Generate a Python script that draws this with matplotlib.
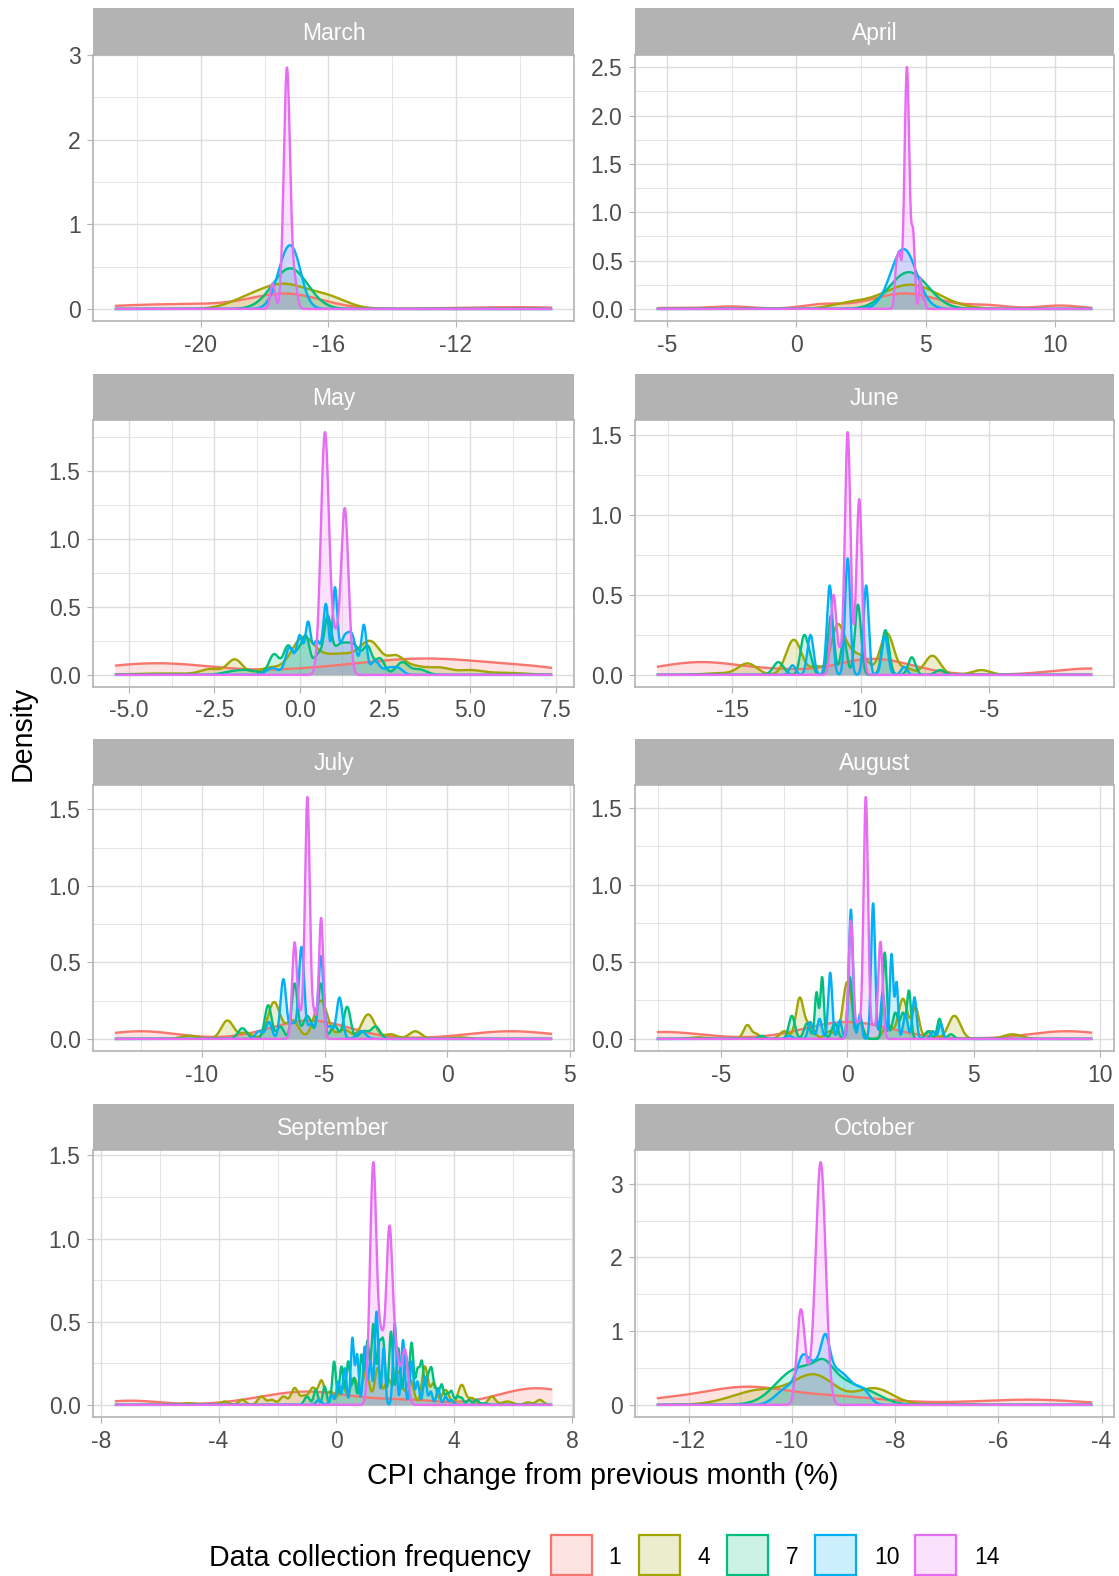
import numpy as np
import matplotlib
matplotlib.use("Agg")
import matplotlib.pyplot as plt
from matplotlib.patches import Rectangle

plt.rcParams['font.family'] = ['Liberation Sans', 'DejaVu Sans']
plt.rcParams['axes.unicode_minus'] = False

# ---------------------------------------------------------------- data
months = ["March", "April", "May", "June", "July", "August", "September", "October"]
frequencies = [1, 4, 7, 10, 14]
freq_colors = ["#F8766D", "#A3A500", "#00BF7D", "#00B0F6", "#E76BF3"]

# observed range of CPI change per month
x_extent = {
    "March": (-22.7, -8.98), "April": (-5.4, 11.45), "May": (-5.42, 7.4),
    "June": (-17.94, -0.97), "July": (-13.55, 4.28), "August": (-7.55, 9.7),
    "September": (-7.52, 7.32), "October": (-12.62, -4.18),
}

x_ticks = {
    "March": [-20, -16, -12], "April": [-5, 0, 5, 10],
    "May": [-5.0, -2.5, 0.0, 2.5, 5.0, 7.5], "June": [-15, -10, -5],
    "July": [-10, -5, 0, 5], "August": [-5, 0, 5, 10],
    "September": [-8, -4, 0, 4, 8], "October": [-12, -10, -8, -6, -4],
}
x_labels = {
    "March": ["-20", "-16", "-12"], "April": ["-5", "0", "5", "10"],
    "May": ["-5.0", "-2.5", "0.0", "2.5", "5.0", "7.5"], "June": ["-15", "-10", "-5"],
    "July": ["-10", "-5", "0", "5"], "August": ["-5", "0", "5", "10"],
    "September": ["-8", "-4", "0", "4", "8"], "October": ["-12", "-10", "-8", "-6", "-4"],
}
y_ticks = {
    "March": [0, 1, 2, 3], "April": [0.0, 0.5, 1.0, 1.5, 2.0, 2.5],
    "May": [0.0, 0.5, 1.0, 1.5], "June": [0.0, 0.5, 1.0, 1.5],
    "July": [0.0, 0.5, 1.0, 1.5], "August": [0.0, 0.5, 1.0, 1.5],
    "September": [0.0, 0.5, 1.0, 1.5], "October": [0, 1, 2, 3],
}
y_labels = {
    "March": ["0", "1", "2", "3"], "April": ["0.0", "0.5", "1.0", "1.5", "2.0", "2.5"],
    "May": ["0.0", "0.5", "1.0", "1.5"], "June": ["0.0", "0.5", "1.0", "1.5"],
    "July": ["0.0", "0.5", "1.0", "1.5"], "August": ["0.0", "0.5", "1.0", "1.5"],
    "September": ["0.0", "0.5", "1.0", "1.5"], "October": ["0", "1", "2", "3"],
}

# density modes per frequency: (centre, height, width)
march_peaks = {
    1: [(-17.3, 0.17, 1.1), (-20.5, 0.055, 1.8), (-22.6, 0.01, 1.0), (-11.0, 0.015, 1.5), (-9.5, 0.01, 1.0)],
    4: [(-17.4, 0.28, 0.75), (-16.0, 0.12, 0.6), (-18.6, 0.08, 0.6)],
    7: [(-17.2, 0.48, 0.55)],
    10: [(-17.25, 0.7, 0.33), (-17.0, 0.1, 0.2)],
    14: [(-17.3, 2.85, 0.1), (-17.75, 0.3, 0.075), (-17.05, 0.28, 0.08)],
}
april_peaks = {
    1: [(4.2, 0.16, 1.3), (1.0, 0.045, 0.8), (-2.5, 0.025, 0.8), (-4.8, 0.01, 1.0),
        (7.4, 0.035, 0.8), (10.2, 0.035, 0.8)],
    4: [(4.4, 0.25, 1.1), (2.0, 0.05, 0.7)],
    7: [(4.35, 0.38, 0.75)],
    10: [(4.15, 0.62, 0.5)],
    14: [(4.28, 2.5, 0.095), (3.98, 0.55, 0.08), (4.52, 0.72, 0.065), (4.8, 0.32, 0.05),
         (4.95, 0.1, 0.05), (3.85, 0.28, 0.06)],
}
may_peaks = {
    1: [(-4.2, 0.085, 1.8), (3.7, 0.12, 2.3), (0.0, 0.01, 1.2), (7.0, 0.02, 1.0)],
    4: [(-4.0, 0.01, 0.9), (-2.6, 0.04, 0.3), (-1.9, 0.11, 0.22), (-0.9, 0.05, 0.35),
        (0.1, 0.27, 0.35), (0.9, 0.11, 0.35), (1.5, 0.11, 0.35), (2.1, 0.22, 0.3),
        (2.8, 0.11, 0.24), (3.3, 0.06, 0.35), (4.1, 0.05, 0.35), (5.0, 0.03, 0.35), (6.0, 0.015, 0.6)],
    7: [(-2.0, 0.02, 0.3), (-1.5, 0.03, 0.3), (-0.75, 0.15, 0.15), (-0.35, 0.2, 0.13),
        (0.0, 0.18, 0.15), (0.2, 0.2, 0.1), (0.82, 0.34, 0.1), (0.55, 0.15, 0.15),
        (1.15, 0.2, 0.22), (1.6, 0.2, 0.22), (2.0, 0.17, 0.12), (2.35, 0.12, 0.14),
        (3.0, 0.09, 0.18), (3.5, 0.04, 0.22)],
    10: [(-0.8, 0.05, 0.18), (-0.3, 0.2, 0.12), (0.0, 0.28, 0.09), (0.24, 0.36, 0.08),
         (0.5, 0.25, 0.12), (0.77, 0.5, 0.08), (1.03, 0.6, 0.07), (1.3, 0.26, 0.14),
         (1.55, 0.24, 0.12), (1.88, 0.36, 0.08), (2.2, 0.1, 0.12), (2.6, 0.05, 0.18), (2.9, 0.04, 0.14)],
    14: [(0.74, 1.78, 0.12), (1.32, 1.22, 0.11), (1.04, 0.22, 0.1)],
}
june_peaks = {
    1: [(-16.2, 0.08, 1.8), (-9.5, 0.1, 1.5), (-1.0, 0.04, 1.5), (-13.0, 0.015, 1.0)],
    4: [(-15.5, 0.01, 0.6), (-14.4, 0.07, 0.36), (-12.6, 0.22, 0.3), (-11.7, 0.05, 0.25),
        (-10.9, 0.3, 0.25), (-10.4, 0.12, 0.25), (-9.9, 0.1, 0.25), (-8.97, 0.26, 0.27),
        (-8.2, 0.04, 0.25), (-7.2, 0.12, 0.3), (-5.3, 0.03, 0.36)],
    7: [(-13.2, 0.08, 0.2), (-12.2, 0.24, 0.14), (-11.95, 0.08, 0.12), (-11.15, 0.37, 0.12),
        (-10.65, 0.22, 0.12), (-10.1, 0.44, 0.12), (-9.03, 0.28, 0.14), (-8.0, 0.11, 0.14), (-6.9, 0.03, 0.18)],
    10: [(-12.65, 0.06, 0.12), (-11.95, 0.25, 0.12), (-11.2, 0.56, 0.11), (-10.5, 0.73, 0.1),
         (-9.78, 0.56, 0.1), (-9.05, 0.24, 0.12), (-8.3, 0.05, 0.12)],
    14: [(-11.05, 0.5, 0.11), (-10.8, 0.1, 0.08), (-10.5, 1.52, 0.11), (-10.05, 1.1, 0.11)],
}
july_peaks = {
    1: [(-12.5, 0.05, 1.5), (-5.6, 0.12, 1.6), (2.6, 0.05, 1.8)],
    4: [(-10.5, 0.02, 0.35), (-8.96, 0.12, 0.25), (-8.2, 0.04, 0.25), (-7.06, 0.24, 0.25),
        (-6.3, 0.12, 0.25), (-5.15, 0.25, 0.27), (-4.2, 0.06, 0.25), (-3.22, 0.16, 0.27),
        (-2.3, 0.03, 0.25), (-1.3, 0.05, 0.25), (0.5, 0.01, 0.35)],
    7: [(-8.35, 0.07, 0.18), (-7.3, 0.22, 0.14), (-6.8, 0.08, 0.14), (-6.22, 0.36, 0.12),
        (-5.7, 0.15, 0.18), (-5.15, 0.36, 0.12), (-4.6, 0.09, 0.14), (-4.08, 0.21, 0.14),
        (-3.4, 0.05, 0.18), (-2.92, 0.08, 0.18)],
    10: [(-7.67, 0.05, 0.14), (-7.27, 0.11, 0.12), (-6.68, 0.39, 0.12), (-6.3, 0.1, 0.12),
         (-5.94, 0.6, 0.11), (-5.55, 0.1, 0.12), (-5.15, 0.54, 0.11), (-4.78, 0.08, 0.12),
         (-4.39, 0.27, 0.12), (-3.5, 0.05, 0.18)],
    14: [(-6.22, 0.63, 0.1), (-5.98, 0.12, 0.08), (-5.7, 1.58, 0.1), (-5.42, 0.15, 0.08), (-5.14, 0.79, 0.09)],
}
august_peaks = {
    1: [(-7.3, 0.045, 1.6), (0.0, 0.11, 1.7), (8.7, 0.05, 1.5)],
    4: [(-5.9, 0.01, 0.35), (-3.96, 0.09, 0.15), (-3.6, 0.03, 0.12), (-2.5, 0.05, 0.18),
        (-1.89, 0.26, 0.15), (-1.5, 0.09, 0.18), (-0.7, 0.05, 0.18), (0.0, 0.37, 0.18),
        (0.5, 0.1, 0.14), (1.6, 0.09, 0.18), (2.2, 0.26, 0.18), (2.7, 0.2, 0.14),
        (3.3, 0.05, 0.18), (4.24, 0.15, 0.24), (6.54, 0.03, 0.35)],
    7: [(-3.4, 0.02, 0.12), (-2.2, 0.15, 0.12), (-1.6, 0.1, 0.12), (-1.22, 0.3, 0.07),
        (-1.0, 0.4, 0.07), (-0.5, 0.1, 0.12), (0.1, 0.4, 0.09), (0.5, 0.12, 0.12),
        (1.48, 0.56, 0.08), (1.9, 0.17, 0.12), (2.2, 0.16, 0.09), (2.44, 0.31, 0.08),
        (3.2, 0.05, 0.12), (3.65, 0.13, 0.09), (4.1, 0.03, 0.12)],
    10: [(-2.3, 0.02, 0.12), (-1.47, 0.11, 0.09), (-1.1, 0.13, 0.09), (-0.68, 0.43, 0.08),
         (-0.3, 0.12, 0.08), (0.14, 0.84, 0.08), (0.5, 0.16, 0.07), (1.02, 0.88, 0.08),
         (1.4, 0.3, 0.08), (1.75, 0.55, 0.07), (1.95, 0.36, 0.06), (2.3, 0.16, 0.09),
         (2.66, 0.27, 0.08), (3.39, 0.05, 0.09), (3.7, 0.1, 0.08)],
    14: [(0.14, 0.77, 0.09), (0.43, 0.1, 0.08), (0.73, 1.57, 0.09), (1.03, 0.08, 0.08), (1.31, 0.63, 0.09)],
}
september_peaks = {
    1: [(-7.0, 0.025, 1.0), (-1.0, 0.08, 1.6), (6.8, 0.1, 1.3), (2.5, 0.025, 1.0)],
    4: [(-5.0, 0.01, 0.25), (-3.8, 0.02, 0.14), (-3.2, 0.03, 0.12), (-2.55, 0.05, 0.12),
        (-2.2, 0.03, 0.12), (-1.8, 0.05, 0.12), (-1.42, 0.1, 0.12), (-1.1, 0.05, 0.12),
        (-0.8, 0.1, 0.12), (-0.51, 0.14, 0.1), (-0.2, 0.08, 0.12), (0.2, 0.11, 0.12),
        (0.6, 0.16, 0.12), (1.0, 0.2, 0.12), (1.4, 0.22, 0.1), (1.75, 0.15, 0.12),
        (2.1, 0.2, 0.12), (2.5, 0.15, 0.12), (3.0, 0.23, 0.1), (3.3, 0.13, 0.1),
        (3.7, 0.09, 0.12), (4.25, 0.12, 0.12), (4.6, 0.04, 0.12), (5.27, 0.05, 0.12),
        (5.8, 0.02, 0.18), (6.5, 0.015, 0.12), (6.9, 0.03, 0.12)],
    7: [(-1.0, 0.05, 0.09), (-0.7, 0.09, 0.07), (-0.4, 0.11, 0.065), (-0.08, 0.26, 0.065),
        (0.17, 0.23, 0.065), (0.4, 0.26, 0.065), (0.6, 0.16, 0.065), (0.85, 0.3, 0.065),
        (1.05, 0.38, 0.065), (1.25, 0.48, 0.065), (1.45, 0.34, 0.065), (1.59, 0.36, 0.065),
        (1.85, 0.44, 0.065), (2.1, 0.34, 0.065), (2.35, 0.3, 0.065), (2.55, 0.37, 0.065),
        (2.75, 0.2, 0.065), (2.9, 0.25, 0.065), (3.1, 0.15, 0.065), (3.23, 0.2, 0.065),
        (3.4, 0.09, 0.065), (3.57, 0.12, 0.065), (3.75, 0.06, 0.065), (3.9, 0.08, 0.065),
        (4.1, 0.05, 0.065), (4.25, 0.04, 0.065), (4.5, 0.03, 0.07), (4.75, 0.03, 0.07), (5.0, 0.01, 0.12)],
    10: [(-0.6, 0.03, 0.09), (-0.17, 0.06, 0.07), (0.06, 0.14, 0.06), (0.28, 0.22, 0.06),
         (0.54, 0.4, 0.055), (0.7, 0.3, 0.055), (0.96, 0.35, 0.06), (1.15, 0.26, 0.055),
         (1.36, 0.56, 0.06), (1.6, 0.34, 0.055), (1.98, 0.49, 0.06), (2.26, 0.39, 0.06),
         (2.55, 0.26, 0.06), (2.75, 0.14, 0.06), (3.0, 0.17, 0.06), (3.2, 0.08, 0.06),
         (3.45, 0.1, 0.06), (3.7, 0.05, 0.06), (3.9, 0.03, 0.07)],
    14: [(1.25, 1.45, 0.11), (1.52, 0.35, 0.1), (1.8, 1.06, 0.11), (2.05, 0.25, 0.1), (2.32, 0.33, 0.1)],
}
october_peaks = {
    1: [(-10.9, 0.24, 0.9), (-12.6, 0.05, 0.6), (-9.0, 0.09, 0.8), (-5.4, 0.07, 1.0), (-7.5, 0.02, 0.8)],
    4: [(-9.55, 0.38, 0.4), (-10.6, 0.2, 0.55), (-8.4, 0.22, 0.35), (-7.2, 0.01, 0.5)],
    7: [(-9.5, 0.5, 0.55), (-10.1, 0.15, 0.3), (-9.38, 0.12, 0.15), (-8.5, 0.1, 0.3)],
    10: [(-9.55, 0.55, 0.3), (-9.35, 0.4, 0.08), (-9.8, 0.25, 0.1), (-10.15, 0.15, 0.2),
         (-9.0, 0.32, 0.25), (-8.6, 0.12, 0.12)],
    14: [(-9.83, 1.2, 0.075), (-9.44, 3.12, 0.095), (-9.6, 0.3, 0.15)],
}
month_peaks = {
    "March": march_peaks, "April": april_peaks, "May": may_peaks, "June": june_peaks,
    "July": july_peaks, "August": august_peaks, "September": september_peaks,
    "October": october_peaks,
}


def density_curve(xs, peaks):
    ys = np.zeros_like(xs)
    for centre, height, width in peaks:
        ys += height * np.exp(-0.5 * ((xs - centre) / width) ** 2)
    return ys


def minor_breaks(major, lo, hi):
    step = major[1] - major[0]
    ext = [major[0] - step] + list(major) + [major[-1] + step]
    mids = [(a + b) / 2 for a, b in zip(ext[:-1], ext[1:])]
    return [m for m in mids if lo <= m <= hi]


# ---------------------------------------------------------------- layout
W, H = 1119, 1576
fig = plt.figure(figsize=(W / 100, H / 100), dpi=100)
fig.patch.set_facecolor("white")

col_px = [(93, 574), (635, 1114)]
row_px = [(8, 55, 321), (374, 420, 687), (739, 785, 1051), (1104, 1150, 1417)]


def frac_rect(left, top, right, bottom):
    return [left / W, 1 - bottom / H, (right - left) / W, (bottom - top) / H]


grey70 = "#B3B3B3"
grey87 = "#DEDEDE"
grey30 = "#4D4D4D"
tick_size = 16.5
title_size = 20.6

for i, month in enumerate(months):
    r, c = divmod(i, 2)
    left, right = col_px[c]
    strip_top, top, bottom = row_px[r]

    # facet strip
    sax = fig.add_axes(frac_rect(left, strip_top, right, top))
    sax.set_facecolor(grey70)
    sax.set_xticks([])
    sax.set_yticks([])
    for s in sax.spines.values():
        s.set_visible(False)
    sax.text(0.5, 0.46, month, color="white", fontsize=tick_size,
             ha="center", va="center", transform=sax.transAxes)

    ax = fig.add_axes(frac_rect(left, top, right, bottom))
    lo, hi = x_extent[month]
    xs = np.linspace(lo, hi, 4000)
    ymax = 0
    for freq, col in zip(frequencies, freq_colors):
        ys = density_curve(xs, month_peaks[month][freq])
        ymax = max(ymax, ys.max())
        ax.fill_between(xs, 0, ys, color=col, alpha=0.2, linewidth=0, zorder=2)
        ax.plot(xs, ys, color=col, lw=1.7, zorder=3, solid_capstyle="butt")

    span = hi - lo
    xl = (lo - 0.05 * span, hi + 0.05 * span)
    yl = (-0.05 * ymax, 1.05 * ymax)
    ax.set_xlim(*xl)
    ax.set_ylim(*yl)

    ax.set_xticks(x_ticks[month])
    ax.set_xticklabels(x_labels[month])
    ax.set_yticks(y_ticks[month])
    ax.set_yticklabels(y_labels[month])
    ax.set_xticks(minor_breaks(x_ticks[month], *xl), minor=True)
    ax.set_yticks(minor_breaks(y_ticks[month], *yl), minor=True)
    ax.grid(which="major", color=grey87, lw=1.0, zorder=0)
    ax.grid(which="minor", color=grey87, lw=0.55, zorder=0)
    ax.set_axisbelow(True)
    ax.tick_params(which="major", length=4, width=0.8, color=grey70,
                   labelsize=tick_size, labelcolor=grey30, pad=5)
    ax.tick_params(which="minor", length=0)
    for s in ax.spines.values():
        s.set_color(grey70)
        s.set_linewidth(1.2)

fig.text(23 / W, 1 - 733 / H, "Density", rotation=90, fontsize=title_size,
         ha="center", va="center", color="black")
fig.text(603 / W, 1 - 1476 / H, "CPI change from previous month (%)",
         fontsize=title_size, ha="center", va="center", color="black")

# legend
fig.text(209 / W, 1 - 1558 / H, "Data collection frequency", fontsize=title_size,
         ha="left", va="center", color="black")
key_left = [551, 639, 727, 815, 915]
label_x = [615, 704, 792, 887, 987]
for freq, col, kx, lx in zip(frequencies, freq_colors, key_left, label_x):
    fig.patches.append(Rectangle((kx / W, 1 - 1575 / H), 41 / W, 40 / H,
                                 transform=fig.transFigure, facecolor=col,
                                 alpha=0.2, edgecolor="none"))
    fig.patches.append(Rectangle((kx / W, 1 - 1575 / H), 41 / W, 40 / H,
                                 transform=fig.transFigure, facecolor="none",
                                 edgecolor=col, lw=1.6))
    fig.text(lx / W, 1 - 1558 / H, str(freq), fontsize=tick_size,
             ha="center", va="center", color="black")

fig.savefig("out.png", dpi=100)
